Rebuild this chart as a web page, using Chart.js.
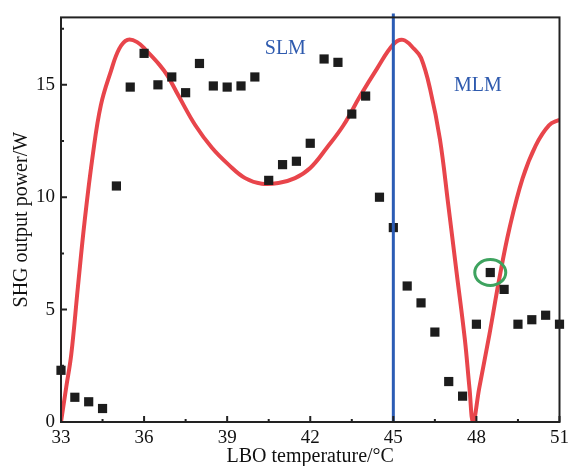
<!DOCTYPE html>
<html>
<head>
<meta charset="utf-8">
<script src="https://cdn.jsdelivr.net/npm/chart.js@4"></script>
<style>
  body { margin: 0; background: #fff; }
</style>
</head>
<body>
<canvas id="myChart" width="574" height="466"></canvas>
<script>
// measured points
const temps = [33, 33.5, 34, 34.5, 35, 35.5, 36, 36.5, 37, 37.5, 38, 38.5, 39, 39.5, 40, 40.5, 41, 41.5, 42,
  42.5, 43, 43.5, 44, 44.5, 45, 45.5, 46, 46.5, 47, 47.5, 48, 48.5, 49, 49.5, 50, 50.5, 51];
const powers = [2.3, 1.1, 0.9, 0.6, 10.5, 14.9, 16.4, 15.0, 15.35, 14.65, 15.95, 14.95, 14.9, 14.95, 15.35, 10.75, 11.45, 11.6, 12.4,
  16.15, 16.0, 13.7, 14.5, 10.0, 8.65, 6.05, 5.3, 4.0, 1.8, 1.15, 4.35, 6.65, 5.9, 4.35, 4.55, 4.75, 4.35];

// theory curve
const fitX = [33, 33.19, 33.37, 33.61, 33.85, 34.15, 34.44, 34.8, 35.1, 35.4, 35.75, 36.1, 36.55, 36.85, 37.25, 37.85,
  38.45, 39.05, 39.65, 40.25, 40.85, 41.45, 42.0, 42.6, 43.2, 43.8, 44.4, 45.0, 45.35, 45.75, 46.0, 46.33, 46.68,
  46.98, 47.28, 47.58, 47.75, 47.88, 48.1, 48.47, 48.83, 49.19, 49.67, 50.14, 50.62, 51];
const fitY = [0, 1.56, 3.0, 6.0, 8.9, 11.9, 14.1, 15.6, 16.6, 17.0, 16.9, 16.5, 15.9, 15.4, 14.5, 13.2,
  12.2, 11.45, 10.85, 10.6, 10.63, 10.85, 11.3, 12.2, 13.2, 14.5, 15.7, 16.8, 17.0, 16.6, 16.2, 14.8, 12.6,
  9.7, 6.7, 3.7, 1.5, 0, 1.5, 3.9, 6.4, 8.6, 10.85, 12.3, 13.2, 13.45];

const xTicks = [33, 36, 39, 42, 45, 48, 51];
const yTicks = [0, 5, 10, 15];
const xMinor = [34.5, 37.5, 40.5, 43.5, 46.5, 49.5];
const yMinor = [2.5, 7.5, 12.5, 17.5];

const serif = '"Liberation Serif", "Times New Roman", serif';

const overlay = {
  id: 'overlay',
  afterDatasetsDraw(chart) {
    const { ctx, chartArea: a, scales: { x, y } } = chart;
    ctx.save();

    // SLM / MLM border
    const xb = x.getPixelForValue(45);
    ctx.strokeStyle = '#2b5cb5';
    ctx.lineWidth = 3;
    ctx.beginPath();
    ctx.moveTo(xb, a.top - 4);
    ctx.lineTo(xb, a.bottom);
    ctx.stroke();

    // green marker round one point
    ctx.strokeStyle = '#3ea35f';
    ctx.lineWidth = 3;
    ctx.beginPath();
    ctx.ellipse(x.getPixelForValue(48.5), y.getPixelForValue(6.65), 15.5, 13, 0, 0, Math.PI * 2);
    ctx.stroke();

    // frame
    ctx.strokeStyle = '#222';
    ctx.lineWidth = 2;
    ctx.strokeRect(a.left, a.top, a.right - a.left, a.bottom - a.top);

    // inward ticks
    ctx.beginPath();
    xTicks.forEach(v => { const p = x.getPixelForValue(v); ctx.moveTo(p, a.bottom); ctx.lineTo(p, a.bottom - 6); });
    xMinor.forEach(v => { const p = x.getPixelForValue(v); ctx.moveTo(p, a.bottom); ctx.lineTo(p, a.bottom - 3); });
    yTicks.forEach(v => { const p = y.getPixelForValue(v); ctx.moveTo(a.left, p); ctx.lineTo(a.left + 6, p); });
    yMinor.forEach(v => { const p = y.getPixelForValue(v); ctx.moveTo(a.left, p); ctx.lineTo(a.left + 3, p); });
    ctx.stroke();

    // region labels
    ctx.fillStyle = '#2e5aae';
    ctx.font = '20px ' + serif;
    ctx.textAlign = 'center';
    ctx.textBaseline = 'middle';
    ctx.fillText('SLM', x.getPixelForValue(41.1), y.getPixelForValue(16.6));
    ctx.fillText('MLM', x.getPixelForValue(48.05), y.getPixelForValue(14.95));
    ctx.restore();
  }
};

new Chart(document.getElementById('myChart'), {
  type: 'scatter',
  data: {
    datasets: [{
      label: 'measured',
      data: temps.map((t, i) => ({ x: t, y: powers[i] })),
      pointStyle: 'rect',
      pointRadius: 6.5,
      borderWidth: 0,
      backgroundColor: '#1c1c1c',
      clip: false
    }, {
      label: 'theory',
      data: fitX.map((t, i) => ({ x: t, y: fitY[i] })),
      showLine: true,
      pointRadius: 0,
      borderColor: '#e8454b',
      borderWidth: 4,
      tension: 0.4
    }]
  },
  options: {
    responsive: false,
    animation: false,
    layout: { padding: { top: 15, right: 10, left: 0, bottom: 0 } },
    plugins: { legend: { display: false }, tooltip: { enabled: false } },
    scales: {
      x: {
        type: 'linear',
        min: 33,
        max: 51,
        grid: { display: false, drawTicks: false },
        border: { display: false },
        afterBuildTicks: s => { s.ticks = xTicks.map(v => ({ value: v })); },
        afterFit: s => { s.height = 44; },
        ticks: { color: '#111', padding: 5, maxRotation: 0, font: { family: serif, size: 19 } },
        title: { display: true, text: 'LBO temperature/°C', color: '#111', padding: { top: 0, bottom: -1 }, font: { family: serif, size: 20, lineHeight: 1 } }
      },
      y: {
        type: 'linear',
        min: 0,
        max: 18,
        grid: { display: false, drawTicks: false },
        border: { display: false },
        afterBuildTicks: s => { s.ticks = yTicks.map(v => ({ value: v })); },
        afterFit: s => { s.width = 61; },
        ticks: { color: '#111', padding: 6, font: { family: serif, size: 19 } },
        title: { display: true, text: 'SHG output power/W', color: '#111', padding: { top: 12, bottom: 0 }, font: { family: serif, size: 20, lineHeight: 1 } }
      }
    }
  },
  plugins: [overlay]
});
</script>
</body>
</html>
